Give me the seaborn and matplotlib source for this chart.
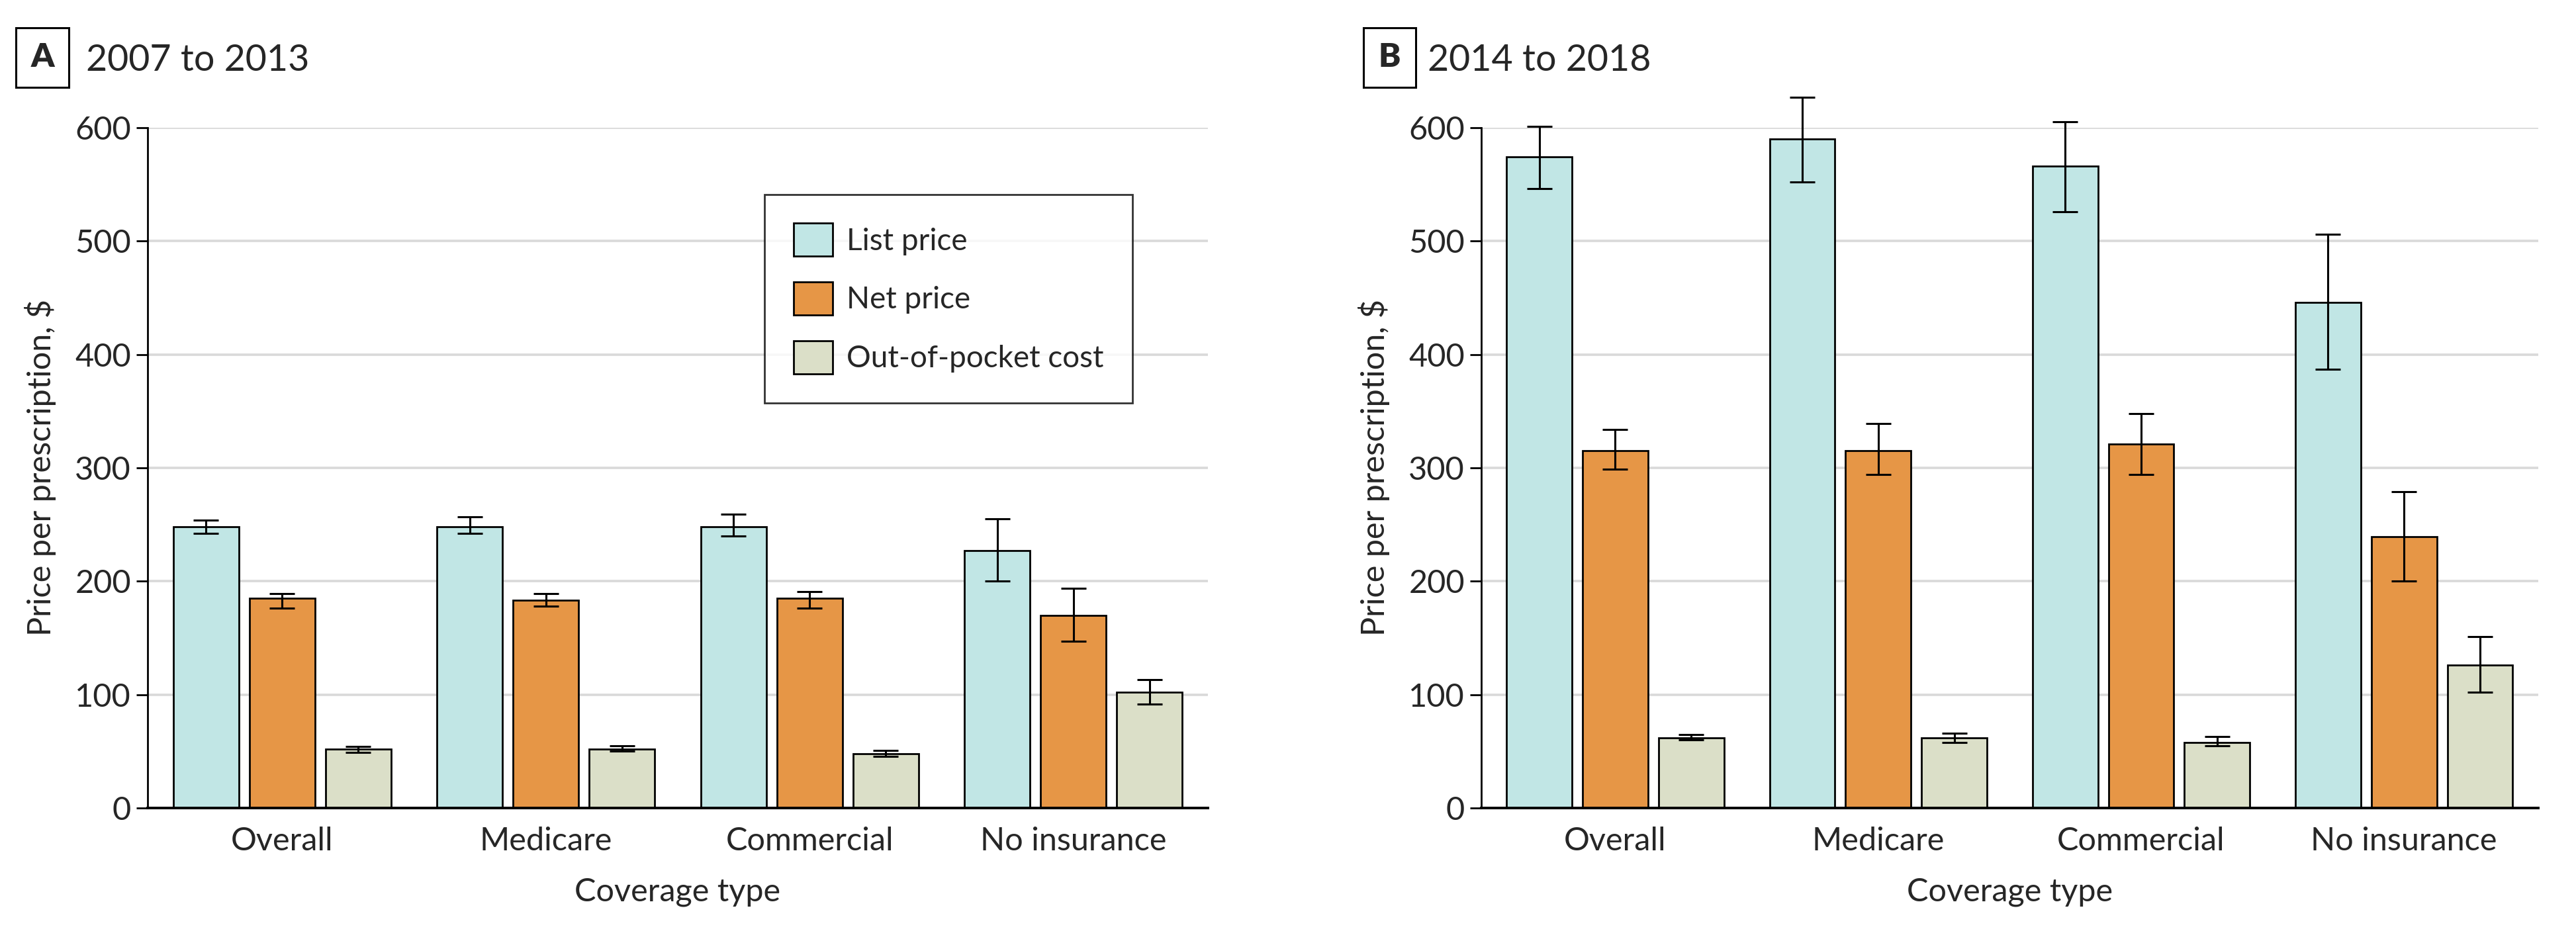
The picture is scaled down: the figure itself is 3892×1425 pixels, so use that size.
import numpy as np
import pandas as pd
import matplotlib
matplotlib.use('Agg')
import matplotlib.pyplot as plt
import seaborn as sns

# Categories and series
coverage = ['Overall', 'Medicare', 'Commercial', 'No insurance']
measures = ['List price', 'Net price', 'Out-of-pocket cost']

# Panel A: 2007 to 2013 (mean, lower, upper)
a_list = [248, 248, 248, 227]
a_list_lo = [242, 242, 240, 200]
a_list_hi = [254, 257, 259, 255]
a_net = [185, 183, 185, 170]
a_net_lo = [176, 178, 176, 147]
a_net_hi = [189, 189, 191, 194]
a_oop = [52, 52, 48, 102]
a_oop_lo = [49, 50, 45.5, 91.5]
a_oop_hi = [54, 55, 50.5, 113]

# Panel B: 2014 to 2018
b_list = [574, 590, 566, 446]
b_list_lo = [546, 552, 526, 387]
b_list_hi = [601, 627, 605, 506]
b_net = [315, 315, 321, 239]
b_net_lo = [299, 294, 294, 200]
b_net_hi = [334, 339, 348, 279]
b_oop = [62, 62, 58, 126]
b_oop_lo = [60, 58, 55, 102]
b_oop_hi = [65, 66, 63, 151]

yticks = [0, 100, 200, 300, 400, 500, 600]
colors = ['#C1E6E5', '#E69646', '#DBDFC8']

sns.set_style('white')
plt.rcParams['font.family'] = ['Lato', 'DejaVu Sans']


def make_df(vals, lo, hi):
    rows = []
    for m, v, l, h in zip(measures, vals, lo, hi):
        for c, vv, ll, hh in zip(coverage, v, l, h):
            rows.append({'Coverage type': c, 'Measure': m, 'Price': vv, 'lo': ll, 'hi': hh})
    return pd.DataFrame(rows)


df_a = make_df([a_list, a_net, a_oop], [a_list_lo, a_net_lo, a_oop_lo], [a_list_hi, a_net_hi, a_oop_hi])
df_b = make_df([b_list, b_net, b_oop], [b_list_lo, b_net_lo, b_oop_lo], [b_list_hi, b_net_hi, b_oop_hi])

fig = plt.figure(figsize=(19.46, 7.125), dpi=200)
ax_a = fig.add_axes([0.0573, 0.1432, 0.4116, 0.7214])
ax_b = fig.add_axes([0.5750, 0.1432, 0.4103, 0.7214])

fs = 17.5

for ax, df, letter, title, lx, tx in [
    (ax_a, df_a, 'A', '2007 to 2013', 0.0165, 0.0334),
    (ax_b, df_b, 'B', '2014 to 2018', 0.5395, 0.5542),
]:
    sns.barplot(data=df, x='Coverage type', y='Price', hue='Measure',
                order=coverage, hue_order=measures, palette=colors,
                saturation=1, width=0.867, gap=0.14, errorbar=None,
                edgecolor='black', linewidth=1.0, ax=ax, zorder=2)
    # error bars placed on each bar center
    for cont, m in zip(ax.containers, measures):
        sub = df[df['Measure'] == m].set_index('Coverage type').loc[coverage]
        xs = [p.get_x() + p.get_width() / 2 for p in cont.patches]
        ax.errorbar(xs, sub['Price'],
                    yerr=[sub['Price'] - sub['lo'], sub['hi'] - sub['Price']],
                    fmt='none', ecolor='black', elinewidth=1.1, capsize=6.8,
                    capthick=1.1, clip_on=False, zorder=3)

    ax.set_ylim(0, 600)
    ax.set_xlim(-0.51, 3.51)
    ax.set_yticks(yticks)
    ax.yaxis.grid(True, color='#D9D9D9', linewidth=1.3, zorder=0)
    ax.set_axisbelow(True)
    sns.despine(ax=ax)
    ax.spines['left'].set_color('black')
    ax.spines['left'].set_linewidth(1.0)
    ax.spines['bottom'].set_color('black')
    ax.spines['bottom'].set_linewidth(1.4)
    ax.tick_params(axis='y', length=6, width=1.0, color='black', labelsize=fs, left=True, pad=3)
    ax.tick_params(axis='x', length=0, labelsize=fs, pad=10)
    ax.set_xlabel('Coverage type', fontsize=fs, labelpad=12)
    ax.set_ylabel('Price per prescription, $', fontsize=fs, labelpad=10)

    fig.text(lx, 0.939, letter, fontsize=18, fontweight='heavy', ha='center', va='center',
             bbox=dict(boxstyle='square,pad=0.45', facecolor='white', edgecolor='black', linewidth=1.1))
    fig.text(tx, 0.925, title, fontsize=20, ha='left', va='baseline')

ax_b.get_legend().remove()
handles, labels = ax_a.get_legend_handles_labels()
ax_a.get_legend().remove()
leg = ax_a.legend(handles, labels, loc='upper left', bbox_to_anchor=(0.582, 0.902),
                  borderaxespad=0, fontsize=16.5, frameon=True, fancybox=False,
                  edgecolor='black', handlelength=1.3, handleheight=1.3,
                  labelspacing=0.85, borderpad=0.95, handletextpad=0.45)
leg.get_frame().set_linewidth(1.0)

fig.savefig('out.png', dpi=200, facecolor='white')
